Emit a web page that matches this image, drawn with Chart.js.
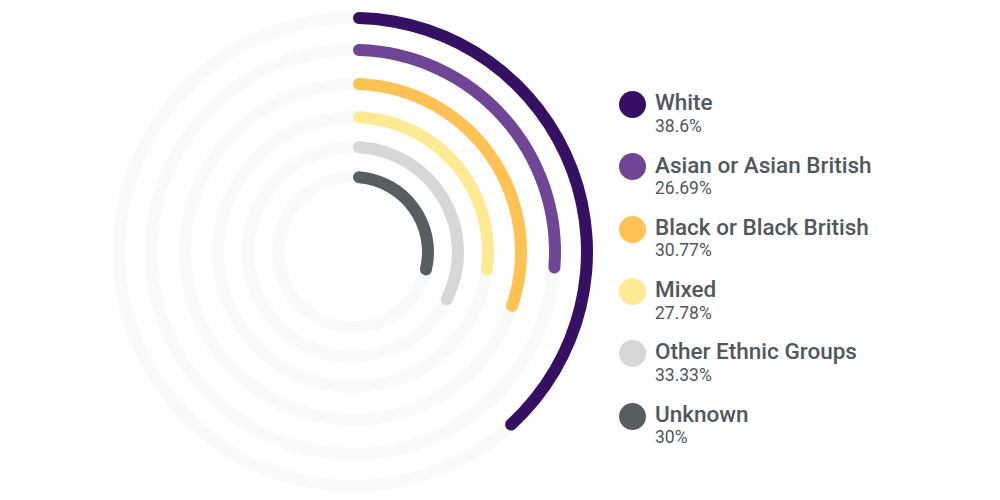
<!DOCTYPE html>
<html>
<head>
<meta charset="utf-8">
<script src="https://cdn.jsdelivr.net/npm/chart.js@4/dist/chart.umd.min.js"></script>
<style>
  html, body { margin: 0; padding: 0; background: #ffffff; }
  body { width: 1000px; height: 500px; position: relative; overflow: hidden; font-family: Roboto, "Noto Sans", sans-serif; }
  #wrap { position: absolute; left: 113px; top: 12px; width: 480px; height: 480px; }
  #legend { position: absolute; left: 618.5px; top: 0; }
  .item { position: absolute; left: 0; width: 380px; height: 60px; }
  .dot { position: absolute; left: 0; top: 0; width: 27px; height: 27px; border-radius: 50%; }
  .lab { position: absolute; left: 36.5px; top: -1.8px; font-size: 22.5px; line-height: 1.171; font-weight: 500; color: #50575d; white-space: nowrap; }
  .pct { position: absolute; left: 36.5px; top: 24.8px; font-size: 17.5px; line-height: 1.171; font-weight: 400; color: #50575d; white-space: nowrap; }
</style>
</head>
<body>
<div id="wrap"><canvas id="c"></canvas></div>
<div id="legend"></div>
<script>
const categories = ["White", "Asian or Asian British", "Black or Black British", "Mixed", "Other Ethnic Groups", "Unknown"];
const values = [38.6, 26.69, 30.77, 27.78, 33.33, 30];
const valueLabels = ["38.6%", "26.69%", "30.77%", "27.78%", "33.33%", "30%"];
const colors = ["#361163", "#6f4596", "#ffc253", "#ffea94", "#d6d7d9", "#575e62"];
const trackColor = "#f9f9f9";
const ringWeight = 12;
const gapWeights = [20, 22, 21, 18, 18];

const datasets = [];
categories.forEach((cat, i) => {
  datasets.push({
    label: cat,
    data: [values[i], 100 - values[i]],
    backgroundColor: [colors[i], "rgba(0,0,0,0)"],
    borderWidth: 0,
    borderRadius: (ctx) => ctx.dataIndex === 0 ? 6 : 0,
    weight: ringWeight,
    isBar: true
  });
  if (i < gapWeights.length) {
    datasets.push({
      label: "gap" + i,
      data: [1],
      backgroundColor: ["rgba(0,0,0,0)"],
      borderWidth: 0,
      weight: gapWeights[i],
      isBar: false
    });
  }
});

const trackPlugin = {
  id: "tracks",
  beforeDatasetsDraw(chart) {
    const ctx = chart.ctx;
    chart.data.datasets.forEach((ds, di) => {
      if (!ds.isBar) return;
      const meta = chart.getDatasetMeta(di);
      const arc = meta.data[0];
      if (!arc) return;
      const r = (arc.innerRadius + arc.outerRadius) / 2;
      ctx.save();
      ctx.beginPath();
      ctx.arc(arc.x, arc.y, r, 0, Math.PI * 2);
      ctx.strokeStyle = trackColor;
      ctx.lineWidth = arc.outerRadius - arc.innerRadius;
      ctx.stroke();
      ctx.restore();
    });
  }
};

new Chart(document.getElementById("c"), {
  type: "doughnut",
  data: { labels: ["value", "rest"], datasets },
  options: {
    responsive: true,
    maintainAspectRatio: false,
    animation: false,
    cutout: 69,
    rotation: 0,
    circumference: 360,
    events: [],
    layout: { padding: 0 },
    plugins: { legend: { display: false }, tooltip: { enabled: false } }
  },
  plugins: [trackPlugin]
});

const legend = document.getElementById("legend");
categories.forEach((cat, i) => {
  const it = document.createElement("div");
  it.className = "item";
  it.style.top = (91 + i * 62.3) + "px";
  it.innerHTML = '<div class="dot" style="background:' + colors[i] + '"></div>' +
    '<div class="lab">' + cat + '</div>' +
    '<div class="pct">' + valueLabels[i] + '</div>';
  legend.appendChild(it);
});
</script>
</body>
</html>
